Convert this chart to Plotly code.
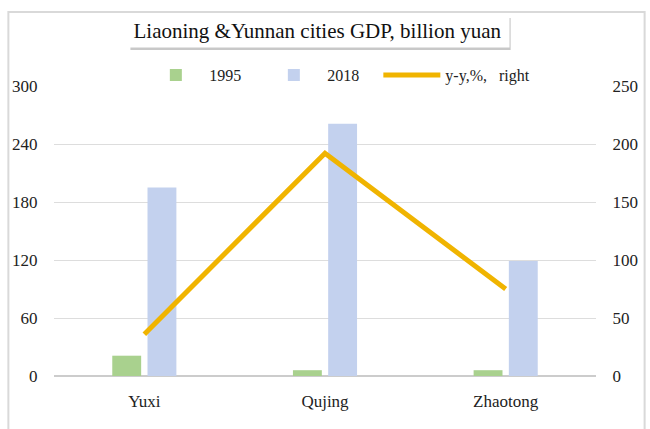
import plotly.graph_objects as go

cities = ["Yuxi", "Qujing", "Zhaotong"]
gdp_1995 = [21, 6, 6]
gdp_2018 = [195, 261, 119]
yy_growth = [36, 192, 75]

left_ticks = [0, 60, 120, 180, 240, 300]
right_ticks = [0, 50, 100, 150, 200, 250]

SERIF = "Liberation Serif, Times New Roman, serif"
GOLD = "#F0B400"

fig = go.Figure()
fig.add_trace(go.Bar(x=cities, y=gdp_1995, name="1995", legendwidth=46,
                     marker=dict(color="#A9D18E", line=dict(width=0))))
fig.add_trace(go.Bar(x=cities, y=gdp_2018, name="2018", legendwidth=46,
                     marker=dict(color="#C3D1EE", line=dict(width=0))))
fig.add_trace(go.Scatter(x=cities, y=yy_growth, name="y-y,%,   right", yaxis="y2",
                         mode="lines", line=dict(color=GOLD, width=5)))

fig.update_layout(
    width=650, height=429,
    margin=dict(l=52, r=52, t=86, b=53),
    paper_bgcolor="white", plot_bgcolor="white",
    font=dict(family=SERIF, size=16, color="#222222"),
    barmode="group", bargap=0.61, bargroupgap=0.18,
    showlegend=True,
    legend=dict(orientation="h", x=0.163, xanchor="left", y=1.038, yanchor="middle",
                font=dict(family=SERIF, size=16, color="#222222"),
                bgcolor="rgba(0,0,0,0)", itemwidth=57, traceorder="normal"),
    xaxis=dict(showgrid=False, showline=False, zeroline=False,
               ticks="outside", ticklen=10, tickcolor="rgba(0,0,0,0)",
               tickfont=dict(family=SERIF, size=17, color="#222222")),
    yaxis=dict(range=[0, 300], tickvals=left_ticks, showgrid=True, gridcolor="#DDDDDD",
               gridwidth=1, zeroline=True, zerolinecolor="#CCCCCC", zerolinewidth=1.5,
               showline=False, ticks="outside", ticklen=12, tickcolor="rgba(0,0,0,0)",
               tickfont=dict(family=SERIF, size=17, color="#222222")),
    yaxis2=dict(range=[0, 250], tickvals=right_ticks, overlaying="y", side="right",
                showgrid=False, zeroline=False, showline=False,
                ticks="outside", ticklen=12, tickcolor="rgba(0,0,0,0)",
                tickfont=dict(family=SERIF, size=17, color="#222222")),
)

title_text = "Liaoning &Yunnan cities GDP, billion yuan"
# soft shadow behind the title box
fig.add_shape(type="rect", xref="paper", yref="paper",
              x0=0.141, x1=0.8425, y0=1.1241, y1=1.2345,
              line=dict(width=0), fillcolor="#C8C8C8", layer="below")
fig.add_annotation(xref="paper", yref="paper", x=0.4863, y=1.1897,
                   xanchor="center", yanchor="middle",
                   text=title_text, showarrow=False, width=377, height=26,
                   font=dict(family=SERIF, size=21, color="#111111"),
                   bgcolor="white", borderpad=3)

# outer chart border
fig.add_shape(type="rect", xref="paper", yref="paper",
              x0=-0.0842, x1=1.0897, y0=-0.2, y1=1.2552,
              line=dict(color="#D9D9D9", width=2), fillcolor="rgba(0,0,0,0)", layer="below")

fig.write_html("out.html", config={"displayModeBar": False},
               post_script="document.body.style.margin='0px';")
